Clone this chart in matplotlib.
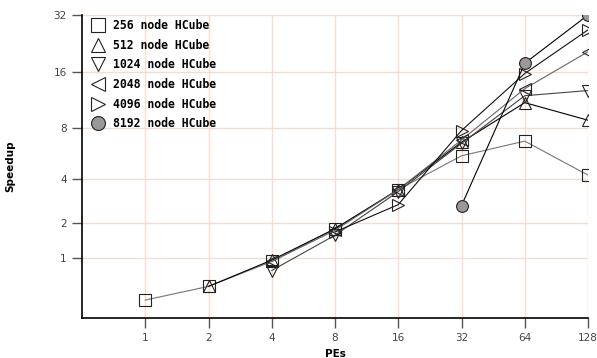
import numpy as np
import matplotlib
matplotlib.use("Agg")
import matplotlib.pyplot as plt
from matplotlib.lines import Line2D

# speedup data
pes = [1, 2, 4, 8, 16, 32, 64, 128]
labels = ["256 node HCube", "512 node HCube", "1024 node HCube",
          "2048 node HCube", "4096 node HCube", "8192 node HCube"]
x_256 = [1, 2, 4, 8, 16, 32, 64, 128]
y_256 = [0.23, 0.44, 0.92, 1.8, 3.4, 5.5, 6.7, 4.2]
x_512 = [2, 4, 8, 16, 32, 64, 128]
y_512 = [0.44, 0.95, 1.8, 3.4, 6.6, 11.0, 8.8]
x_1024 = [4, 8, 16, 32, 64, 128]
y_1024 = [0.73, 1.6, 3.3, 6.5, 12.0, 12.8]
x_2048 = [4, 8, 16, 32, 64, 128]
y_2048 = [0.92, 1.75, 3.4, 6.8, 13.1, 20.6]
x_4096 = [8, 16, 32, 64, 128]
y_4096 = [1.7, 2.7, 7.7, 15.8, 26.8]
x_8192 = [32, 64, 128]
y_8192 = [2.66, 17.9, 32]
yticks = [1, 2, 4, 8, 16, 32]

series = [(x_256, y_256, "s", "#777777", "none"),
          (x_512, y_512, "^", "#000000", "none"),
          (x_1024, y_1024, "v", "#444444", "none"),
          (x_2048, y_2048, "<", "#666666", "none"),
          (x_4096, y_4096, ">", "#111111", "none"),
          (x_8192, y_8192, "o", "#000000", "#999999")]

fig = plt.figure(figsize=(5.97, 3.58), dpi=100)
ax = fig.add_axes([82 / 597, 40 / 358, 506 / 597, 303 / 358])

for (xs, ys, m, c, fc), lab in zip(series, labels):
    ax.plot(xs, ys, color=c, lw=0.8, marker=m, markersize=8.5,
            markerfacecolor=fc, markeredgecolor="#222222", markeredgewidth=0.8,
            label=lab, zorder=3)

ax.set_xscale("log", base=2)
ax.set_yscale("function", functions=(lambda v: np.log2(np.maximum(v, -0.99) + 1),
                                     lambda v: 2.0 ** v - 1))
ax.set_xlim(0.5, 128)
ax.set_ylim(0, 32)
ax.set_xticks(pes)
ax.set_xticklabels([str(p) for p in pes])
ax.set_yticks(yticks)
ax.set_yticklabels([str(t) for t in yticks])
ax.minorticks_off()

ax.grid(True, color="#f0ddd3", lw=1)
ax.set_axisbelow(True)
for s in ["top", "right"]:
    ax.spines[s].set_visible(False)
ax.spines["left"].set_linewidth(1.2)
ax.spines["bottom"].set_linewidth(1.2)
ax.tick_params(direction="out", length=7, width=1, color="#555555",
               labelcolor="#444444", labelsize=7.5, pad=4)

ax.set_xlabel("PEs", fontsize=7.5, fontweight="bold", labelpad=4)
ax.set_ylabel("Speedup", fontsize=7.5, fontweight="bold")
ax.yaxis.set_label_coords(-0.132, 0.5)

handles = [Line2D([], [], ls="none", marker=m, markersize=10, markerfacecolor=fc,
                  markeredgecolor="#222222", markeredgewidth=0.8)
           for (_, _, m, _, fc) in series]
ax.legend(handles, labels, loc="upper left", bbox_to_anchor=(0.0, 1.01),
          frameon=False, handletextpad=0.5, handlelength=1.6, labelspacing=0.58,
          prop={"family": "DejaVu Sans Mono", "weight": "bold", "size": 8.3},
          borderaxespad=0.2)

fig.savefig("out.png", dpi=100)
